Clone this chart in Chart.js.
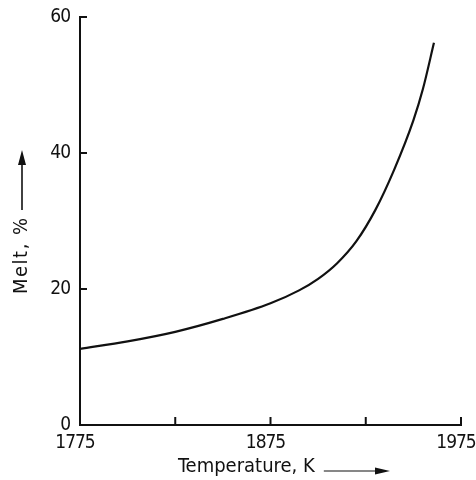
<!DOCTYPE html>
<html>
<head>
<meta charset="utf-8">
<script src="https://cdn.jsdelivr.net/npm/chart.js@4"></script>
<style>
  html, body { margin: 0; padding: 0; background: #fff; }
  #wrap { width: 476px; height: 480px; }
</style>
</head>
<body>
<div id="wrap"><canvas id="c" width="476" height="480"></canvas></div>
<script>
// Melt fraction versus temperature
const temperatures = [1775, 1800, 1825, 1850, 1875, 1890, 1900, 1910, 1920, 1930, 1940, 1950, 1955, 1960.8];
const meltPercent  = [11.2, 12.3, 13.7, 15.6, 17.9, 19.8, 21.5, 23.8, 27.0, 31.6, 37.6, 44.8, 49.4, 56.2];
const xTickValues = [1775, 1825, 1875, 1925, 1975];
const xLabelTicks = [1775, 1875, 1975];
const yTickValues = [0, 20, 40, 60];
const xTitle = 'Temperature, K';
const yTitle = 'Melt, %';

const TICK_FONT = "'DejaVu Sans Condensed', 'DejaVu Sans', sans-serif";
const TITLE_FONT = "'DejaVu Sans Condensed', 'DejaVu Sans', sans-serif";
const INK = '#111';

// Tighter tracking for the numeric tick labels
const tickTracking = {
  id: 'tickTracking',
  beforeDraw(chart) { chart.ctx.letterSpacing = '-1px'; },
  beforeDatasetsDraw(chart) { chart.ctx.letterSpacing = '0px'; }
};

// Inward tick marks and arrowed axis titles
const axisDecor = {
  id: 'axisDecor',
  afterDraw(chart) {
    const { ctx, chartArea: a, scales: { x, y } } = chart;
    ctx.save();
    ctx.letterSpacing = '0px';
    ctx.strokeStyle = INK;
    ctx.fillStyle = INK;
    ctx.lineWidth = 2;
    // x tick marks pointing up
    x.ticks.forEach(t => {
      if (t.value === x.min) return;
      const px = x.getPixelForValue(t.value);
      ctx.beginPath();
      ctx.moveTo(px, a.bottom);
      ctx.lineTo(px, a.bottom - 8);
      ctx.stroke();
    });
    // y tick marks pointing right
    y.ticks.forEach(t => {
      if (t.value === y.min) return;
      const py = y.getPixelForValue(t.value);
      ctx.beginPath();
      ctx.moveTo(a.left, py);
      ctx.lineTo(a.left + 7, py);
      ctx.stroke();
    });

    ctx.textBaseline = 'middle';
    ctx.textAlign = 'left';

    // x title with arrow
    ctx.font = '20px ' + TITLE_FONT;
    const xw = ctx.measureText(xTitle).width;
    const xs = 178, xyMid = 467;
    ctx.fillText(xTitle, xs, xyMid);
    const ax0 = xs + xw + 9, ax1 = 390, ay = 471;
    ctx.lineWidth = 1.2;
    ctx.beginPath();
    ctx.moveTo(ax0, ay);
    ctx.lineTo(ax1 - 10, ay);
    ctx.stroke();
    ctx.beginPath();
    ctx.moveTo(ax1, ay);
    ctx.lineTo(ax1 - 15, ay - 3.5);
    ctx.lineTo(ax1 - 15, ay + 3.5);
    ctx.closePath();
    ctx.fill();

    // y title with arrow (rotated)
    ctx.save();
    ctx.translate(22, 294);
    ctx.rotate(-Math.PI / 2);
    ctx.font = '20px ' + TITLE_FONT;
    ctx.letterSpacing = '1.5px';
    ctx.fillText(yTitle, 0, 0);
    ctx.letterSpacing = '0px';
    const b0 = 84, b1 = 144;
    ctx.lineWidth = 1.6;
    ctx.beginPath();
    ctx.moveTo(b0, 0);
    ctx.lineTo(b1 - 10, 0);
    ctx.stroke();
    ctx.beginPath();
    ctx.moveTo(b1, 0);
    ctx.lineTo(b1 - 15, -4);
    ctx.lineTo(b1 - 15, 4);
    ctx.closePath();
    ctx.fill();
    ctx.restore();
    ctx.restore();
  }
};

new Chart(document.getElementById('c'), {
  type: 'line',
  data: {
    datasets: [{
      data: temperatures.map((t, i) => ({ x: t, y: meltPercent[i] })),
      borderColor: INK,
      borderWidth: 2.2,
      pointRadius: 0,
      fill: false,
      cubicInterpolationMode: 'monotone'
    }]
  },
  options: {
    responsive: false,
    animation: false,
    layout: { padding: { top: 17, right: 15, left: 0, bottom: 0 } },
    plugins: { legend: { display: false }, tooltip: { enabled: false } },
    scales: {
      x: {
        type: 'linear',
        min: 1775, max: 1975,
        afterBuildTicks(scale) {
          scale.ticks = xTickValues.map(v => ({ value: v }));
        },
        afterFit(scale) { scale.height = 55; scale.paddingLeft = 0; scale.paddingRight = 0; },
        grid: { display: true, drawOnChartArea: false, drawTicks: false, color: 'transparent' },
        border: { display: true, color: INK, width: 2 },
        ticks: {
          padding: 7,
          labelOffset: -5,
          maxRotation: 0,
          autoSkip: false,
          color: INK,
          font: { family: TICK_FONT, size: 19 },
          callback: v => xLabelTicks.includes(v) ? String(v) : ''
        }
      },
      y: {
        min: 0, max: 60,
        afterBuildTicks(scale) {
          scale.ticks = yTickValues.map(v => ({ value: v }));
        },
        afterFit(scale) { scale.width = 80; scale.paddingTop = 0; scale.paddingBottom = 0; },
        grid: { display: true, drawOnChartArea: false, drawTicks: false, color: 'transparent' },
        border: { display: true, color: INK, width: 2 },
        ticks: {
          padding: 10,
          color: INK,
          font: { family: TICK_FONT, size: 19 }
        }
      }
    }
  },
  plugins: [tickTracking, axisDecor]
});
</script>
</body>
</html>
